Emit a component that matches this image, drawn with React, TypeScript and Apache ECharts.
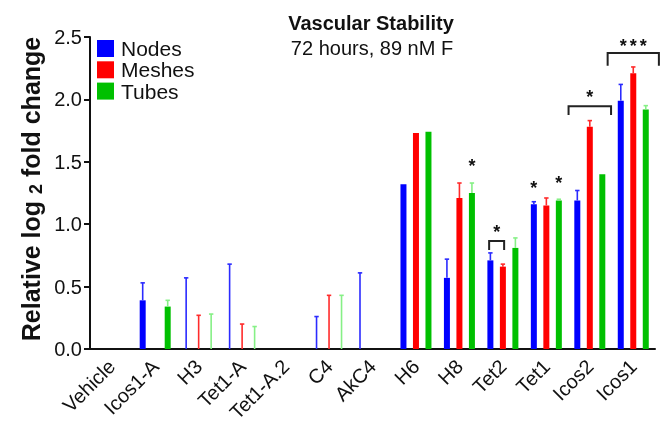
import React, { useEffect, useRef } from "react";
import * as echarts from "echarts";

const categories = ["Vehicle", "Icos1-A", "H3", "Tet1-A", "Tet1-A.2", "C4", "AkC4", "H6", "H8", "Tet2", "Tet1", "Icos2", "Icos1"];
const seriesNames = ["Nodes", "Meshes", "Tubes"];

const nodesMean = [0, 0.39, 0, 0, 0, 0, 0, 1.32, 0.57, 0.71, 1.16, 1.19, 1.99];
const nodesErrTop = [null, 0.53, 0.57, 0.68, null, 0.26, 0.61, null, 0.72, 0.77, 1.18, 1.27, 2.12];
const meshesMean = [0, 0, 0, 0, 0, 0, 0, 1.73, 1.21, 0.66, 1.15, 1.78, 2.21];
const meshesErrTop = [null, null, 0.27, 0.2, null, 0.43, null, null, 1.33, 0.68, 1.21, 1.83, 2.26];
const tubesMean = [0, 0.34, 0, 0, 0, 0, 0, 1.74, 1.25, 0.81, 1.19, 1.4, 1.92];
const tubesErrTop = [null, 0.39, 0.28, 0.18, null, 0.43, null, null, 1.33, 0.89, 1.2, null, 1.95];

const yTicks = [0, 0.5, 1.0, 1.5, 2.0, 2.5];

// significance annotations: bracket ends in bar-slot units relative to category centre
const bracketCats = [9, 11, 12];
const bracketFrom = [-1.1, -1.7, -2.05];
const bracketTo = [0.1, 1.7, 2.05];
const bracketTop = [0.865, 1.945, 2.372];
const bracketLeg = [0.793, 1.875, 2.27];

const starCats = [8, 9, 10, 10, 11, 12];
const starSlots = [1, -0.5, -1, 1, 0, 0];
const starValues = [1.5, 0.967, 1.32, 1.362, 2.05, 2.462];
const starCounts = [1, 1, 1, 1, 1, 3];

const FONT = "'Liberation Sans', Arial, Helvetica, sans-serif";
const barColors = ["#0000FF", "#FF0000", "#00C000"];
const errColors = ["#2B2BFF", "#FF2B2B", "#86F086"];
const BAR_W = 6;
const SLOT = 12.5;

const means = [nodesMean, meshesMean, tubesMean];
const errTops = [nodesErrTop, meshesErrTop, tubesErrTop];

export default function App() {
  const ref = useRef<HTMLDivElement>(null);
  useEffect(() => {
    if (!ref.current) return;
    const chart = echarts.init(ref.current, null, { renderer: "svg" });

    const barSeries = seriesNames.map((name, i) => ({
      name,
      type: "bar",
      data: means[i],
      barWidth: BAR_W,
      barGap: ((SLOT - BAR_W) / BAR_W) * 100 + "%",
      itemStyle: { color: barColors[i] },
      z: 2,
    }));

    const errSeries = seriesNames.map((name, i) => ({
      name: name + "-err",
      type: "custom",
      clip: false,
      z: 3,
      data: categories
        .map((_, c) => [c, means[i][c], errTops[i][c]])
        .filter((d) => d[2] !== null && d[2] !== undefined),
      renderItem: (params: any, api: any) => {
        const c = api.value(0);
        const base = api.coord([c, api.value(1)]);
        const top = api.coord([c, api.value(2)]);
        const x = base[0] + (i - 1) * SLOT;
        const st = { stroke: errColors[i], lineWidth: 1.6 };
        return {
          type: "group",
          children: [
            { type: "line", shape: { x1: x, y1: base[1], x2: x, y2: top[1] }, style: st },
            { type: "line", shape: { x1: x - 2.2, y1: top[1], x2: x + 2.2, y2: top[1] }, style: st },
          ],
        };
      },
    }));

    const bracketSeries = {
      name: "brackets",
      type: "custom",
      clip: false,
      z: 4,
      data: bracketCats.map((c, k) => [c, bracketTop[k], bracketLeg[k], bracketFrom[k], bracketTo[k]]),
      renderItem: (params: any, api: any) => {
        const c = api.value(0);
        const t = api.coord([c, api.value(1)]);
        const l = api.coord([c, api.value(2)]);
        const x1 = t[0] + api.value(3) * SLOT;
        const x2 = t[0] + api.value(4) * SLOT;
        return {
          type: "polyline",
          shape: { points: [[x1, l[1]], [x1, t[1]], [x2, t[1]], [x2, l[1]]] },
          style: { stroke: "#222", lineWidth: 2, fill: null },
        };
      },
    };

    const starSeries = {
      name: "stars",
      type: "custom",
      clip: false,
      z: 4,
      data: starCats.map((c, k) => [c, starValues[k], starSlots[k], starCounts[k]]),
      renderItem: (params: any, api: any) => {
        const c = api.value(0);
        const p = api.coord([c, api.value(1)]);
        const n = api.value(3);
        const cx = p[0] + api.value(2) * SLOT;
        const children = [];
        for (let k = 0; k < n; k++) {
          children.push({
            type: "text",
            style: {
              x: cx + (k - (n - 1) / 2) * 10,
              y: p[1] + 4,
              text: "*",
              fill: "#111",
              font: `bold 18px ${FONT}`,
              align: "center",
              verticalAlign: "middle",
            },
          });
        }
        return { type: "group", children };
      },
    };

    chart.setOption({
      animation: false,
      textStyle: { fontFamily: FONT },
      grid: { left: 90, right: 15, top: 37, bottom: 83, containLabel: false, outerBoundsMode: "none" },
      legend: {
        data: seriesNames,
        orient: "vertical",
        left: 92,
        top: 33,
        itemWidth: 17,
        itemHeight: 17,
        itemGap: 0.3,
        icon: "rect",
        textStyle: { fontSize: 21, lineHeight: 17, color: "#111", fontFamily: FONT, padding: [0, 0, 0, 2] },
        selectedMode: false,
      },
      xAxis: {
        type: "category",
        data: categories,
        axisLine: { lineStyle: { color: "#111", width: 2 } },
        axisTick: { alignWithLabel: true, length: 6, lineStyle: { color: "#111", width: 2 } },
        axisLabel: { rotate: 45, fontSize: 20, color: "#111", interval: 0, margin: 14, fontFamily: FONT },
        splitLine: { show: false },
      },
      yAxis: {
        type: "value",
        min: yTicks[0],
        max: yTicks[yTicks.length - 1],
        interval: 0.5,
        axisLine: { show: true, lineStyle: { color: "#111", width: 2 } },
        axisTick: { show: true, length: 6, lineStyle: { color: "#111", width: 2 } },
        axisLabel: { fontSize: 20, color: "#111", margin: 8, formatter: (v: number) => v.toFixed(1), fontFamily: FONT },
        splitLine: { show: false },
      },
      graphic: [
        {
          type: "text",
          x: 371,
          y: 23,
          style: { text: "Vascular Stability", font: `bold 20px ${FONT}`, fill: "#111", align: "center", verticalAlign: "middle" },
        },
        {
          type: "text",
          x: 372,
          y: 48,
          style: { text: "72 hours, 89 nM F", font: `20px ${FONT}`, fill: "#111", align: "center", verticalAlign: "middle" },
        },
        {
          type: "text",
          x: 31,
          y: 189,
          rotation: Math.PI / 2,
          style: {
            text: "{a|Relative log }{s|2}{a| fold change}",
            align: "center",
            verticalAlign: "middle",
            fill: "#111",
            rich: {
              a: { fontSize: 25, fontWeight: "bold", fontFamily: FONT, fill: "#111", lineHeight: 28 },
              s: { fontSize: 18, fontWeight: "bold", fontFamily: FONT, fill: "#111", verticalAlign: "bottom", lineHeight: 28, padding: [9, 0, 0, 0] },
            },
          },
        },
      ],
      series: [...barSeries, ...errSeries, bracketSeries, starSeries],
    });
    return () => chart.dispose();
  }, []);
  return <div ref={ref} style={{ position: "fixed", left: 0, top: 0, width: 670, height: 432 }} />;
}
